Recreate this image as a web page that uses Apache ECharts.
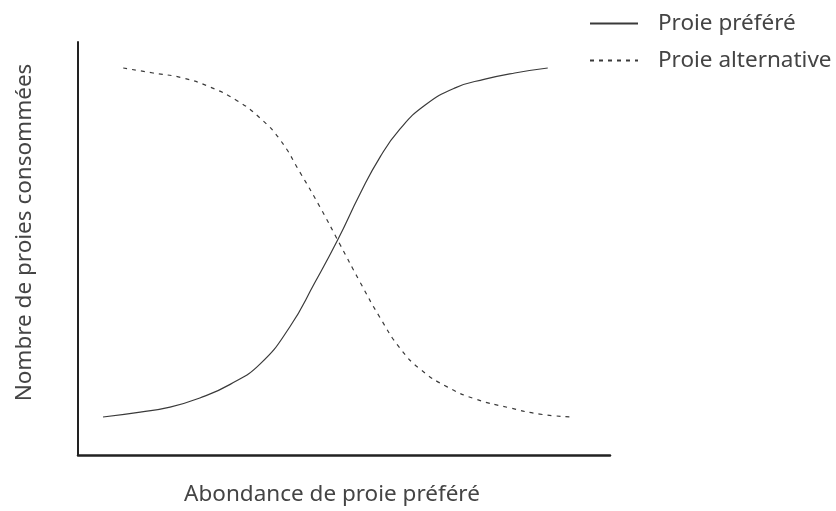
<!DOCTYPE html>
<html>
<head>
<meta charset="utf-8">
<script src="https://cdn.jsdelivr.net/npm/echarts@6/dist/echarts.min.js"></script>
<style>
  html, body { margin: 0; padding: 0; background: #fff; }
  #chart { width: 836px; height: 511px; }
</style>
</head>
<body>
<div id="chart"></div>
<script>
// abondance (x) vs nombre consommé (y), échelle relative 0-100
const preferredX = [4.7, 11.7, 17.3, 22.9, 28.6, 34.2, 39.8, 44.5, 48.9, 53.0, 56.8, 60.5, 65.2, 70.9, 76.5, 82.1, 88.3]
const preferredY = [9.2, 10.4, 11.6, 13.8, 17.1, 22.0, 31.0, 41.7, 52.3, 63.2, 72.2, 78.9, 84.7, 88.9, 91.0, 92.5, 93.7]

const alternativeX = [8.5, 14.1, 19.7, 24.8, 29.9, 34.2, 38.0, 41.7, 45.5, 49.2, 53.0, 56.8, 60.5, 64.3, 69.4, 74.6, 81.2, 86.8, 92.9]
const alternativeY = [93.7, 92.5, 91.3, 89.1, 85.8, 81.6, 76.3, 68.5, 60.0, 51.1, 41.9, 33.2, 25.9, 20.8, 16.5, 13.6, 11.4, 9.9, 9.2]

const seriesNames = ['Proie préféré', 'Proie alternative']
const xTitle = 'Abondance de proie préféré'
const yTitle = 'Nombre de proies consommées'

const zip = (xs, ys) => xs.map((x, i) => [x, ys[i]])

const chart = echarts.init(document.getElementById('chart'))

const font = '"Noto Sans", "Open Sans", sans-serif'
const inkColor = '#3a3a3a'
const textColor = '#444'

const hiddenAxisBits = {
  axisTick: { show: false },
  axisLabel: { show: false },
  splitLine: { show: false }
}

chart.setOption({
  animation: false,
  grid: { left: 78, right: 226, top: 42, bottom: 56, outerBoundsMode: 'none', containLabel: false },
  legend: {
    orient: 'vertical',
    left: 584,
    top: 7,
    itemWidth: 48,
    itemHeight: 14,
    itemGap: 14,
    itemStyle: { opacity: 0 },
    textStyle: { fontFamily: font, fontSize: 22.5, color: textColor, padding: [0, 0, 0, 15] },
    data: seriesNames
  },
  xAxis: {
    type: 'value',
    min: 0,
    max: 100,
    name: xTitle,
    nameLocation: 'middle',
    nameGap: 28,
    nameTextStyle: { fontFamily: font, fontSize: 22.5, color: textColor, padding: [0, 24, 0, 0] },
    axisLine: { lineStyle: { color: '#222', width: 2.5 } },
    ...hiddenAxisBits
  },
  yAxis: {
    type: 'value',
    min: 0,
    max: 100,
    name: yTitle,
    nameLocation: 'middle',
    nameGap: 42,
    nameTextStyle: { fontFamily: font, fontSize: 22.5, color: textColor, padding: [0, 0, 0, 32] },
    axisLine: { lineStyle: { color: '#222', width: 2 } },
    ...hiddenAxisBits
  },
  series: [
    {
      name: seriesNames[0],
      type: 'line',
      smooth: true,
      symbol: 'none',
      data: zip(preferredX, preferredY),
      itemStyle: { color: inkColor },
      lineStyle: { color: inkColor, width: 1.2 }
    },
    {
      name: seriesNames[1],
      type: 'line',
      smooth: true,
      symbol: 'none',
      data: zip(alternativeX, alternativeY),
      itemStyle: { color: inkColor },
      lineStyle: { color: inkColor, width: 1.2, type: [4, 5] }
    }
  ]
})
</script>
</body>
</html>
